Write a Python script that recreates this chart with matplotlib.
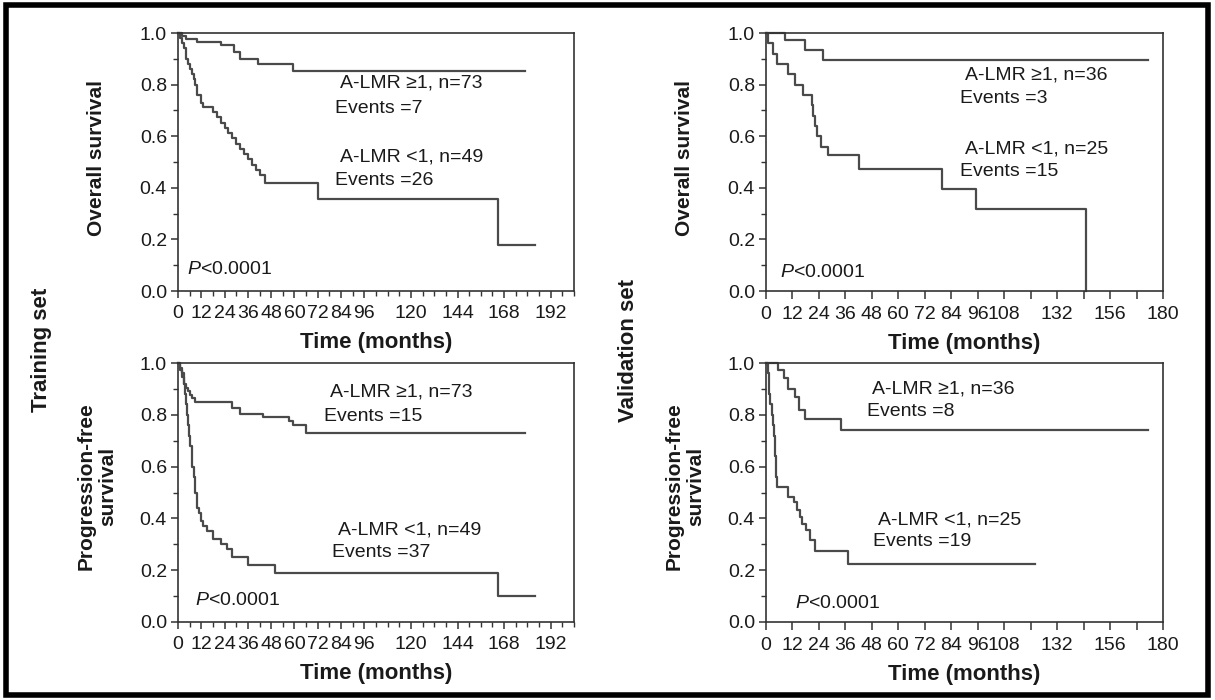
import matplotlib
matplotlib.use("Agg")
import matplotlib.pyplot as plt
from matplotlib.patches import Rectangle
from matplotlib.ticker import MultipleLocator, FixedLocator

plt.rcParams['font.family'] = ['Liberation Sans', 'DejaVu Sans']
plt.rcParams['mathtext.fontset'] = 'custom'
plt.rcParams['mathtext.it'] = 'Liberation Sans:italic'
plt.rcParams['mathtext.rm'] = 'Liberation Sans'

# Kaplan-Meier steps (months, survival)
train_os_hi_t = [0, 2, 4, 10, 22, 29, 32, 41, 59, 179]
train_os_hi_s = [1.0, 0.99, 0.975, 0.965, 0.952, 0.926, 0.90, 0.88, 0.852, 0.852]
train_os_lo_t = [0, 1, 2, 3, 4, 5, 6, 7, 8, 9, 10, 12, 13, 18, 20, 22, 24, 26, 28, 30,
                 32, 34, 36, 38, 40, 42, 45, 72, 165, 184]
train_os_lo_s = [1.0, 0.98, 0.96, 0.94, 0.90, 0.88, 0.86, 0.84, 0.82, 0.80, 0.76, 0.73, 0.714,
                 0.694, 0.673, 0.653, 0.632, 0.612, 0.592, 0.571, 0.551, 0.53, 0.51, 0.49,
                 0.469, 0.449, 0.419, 0.357, 0.178, 0.178]

valid_os_hi_t = [0, 8.5, 17.5, 26, 173]
valid_os_hi_s = [1.0, 0.972, 0.935, 0.897, 0.897]
valid_os_lo_t = [0, 1, 3, 5, 10, 13, 17, 21, 21.5, 22, 23, 25, 28, 42, 80, 95, 145]
valid_os_lo_s = [1.0, 0.96, 0.92, 0.88, 0.84, 0.80, 0.76, 0.72, 0.68, 0.64, 0.60, 0.56,
                 0.526, 0.474, 0.395, 0.316, 0.0]

train_pfs_hi_t = [0, 1, 2, 3, 4, 5, 6, 7, 9, 28, 32, 44, 57, 59, 66, 179]
train_pfs_hi_s = [1.0, 0.973, 0.945, 0.918, 0.904, 0.89, 0.877, 0.863, 0.85, 0.828, 0.805,
                  0.79, 0.775, 0.759, 0.73, 0.73]
train_pfs_lo_t = [0, 1, 2, 3, 3.5, 4, 4.5, 5, 5.5, 6, 7, 8, 9, 10, 11, 12, 13, 15, 18, 22,
                  25, 28, 36, 50, 165, 184]
train_pfs_lo_s = [1.0, 0.98, 0.96, 0.92, 0.88, 0.84, 0.80, 0.76, 0.72, 0.68, 0.60, 0.56, 0.50,
                  0.44, 0.42, 0.39, 0.37, 0.35, 0.32, 0.30, 0.28, 0.25, 0.22, 0.19, 0.10, 0.10]

valid_pfs_hi_t = [0, 5.5, 8, 10, 13, 15, 17.5, 34, 173]
valid_pfs_hi_s = [1.0, 0.972, 0.944, 0.90, 0.87, 0.82, 0.785, 0.743, 0.743]
valid_pfs_lo_t = [0, 1, 1.5, 2, 2.5, 3, 3.5, 4, 4.5, 5, 10, 12.5, 14, 15.5, 16.5, 18, 20, 22, 37, 122]
valid_pfs_lo_s = [1.0, 0.96, 0.88, 0.84, 0.80, 0.76, 0.72, 0.64, 0.56, 0.52, 0.483, 0.463,
                  0.431, 0.405, 0.38, 0.354, 0.315, 0.274, 0.225, 0.225]

left_ticks = [0, 12, 24, 36, 48, 60, 72, 84, 96, 120, 144, 168, 192]
right_ticks = list(range(0, 181, 12))
right_labels = ['0', '12', '24', '36', '48', '60', '72', '84', '96', '108', '', '132', '', '156', '', '180']

set_names = ['Training set', 'Validation set']
y_names = ['Overall survival', 'Progression-free\nsurvival']

# annotation text: (label, x month, y)
notes_tl = [('A-LMR \u22651, n=73', 83.4, 0.805), ('Events =7', 80.9, 0.708),
            ('A-LMR <1, n=49', 83.4, 0.518), ('Events =26', 80.9, 0.43)]
notes_tr = [('A-LMR \u22651, n=36', 90.2, 0.837), ('Events =3', 88, 0.747),
            ('A-LMR <1, n=25', 90.2, 0.549), ('Events =15', 88, 0.462)]
notes_bl = [('A-LMR \u22651, n=73', 78.3, 0.888), ('Events =15', 75.2, 0.794),
            ('A-LMR <1, n=49', 82.2, 0.354), ('Events =37', 79.1, 0.27)]
notes_br = [('A-LMR \u22651, n=36', 47.9, 0.90), ('Events =8', 45.6, 0.811),
            ('A-LMR <1, n=25', 51, 0.395), ('Events =19', 48.7, 0.309)]
pval_pos = [(4.8, 0.084), (6.3, 0.071), (8.8, 0.084), (13.1, 0.071)]

W, H = 1215, 700
fig = plt.figure(figsize=(W / 100, H / 100), dpi=100)
fig.patch.set_facecolor('white')


def box(x0, y_top, w, h):
    return [x0 / W, 1 - (y_top + h) / H, w / W, h / H]


ax_tl = fig.add_axes(box(178, 33, 396, 258))
ax_tr = fig.add_axes(box(766, 33, 397, 258))
ax_bl = fig.add_axes(box(178, 363, 396, 259))
ax_br = fig.add_axes(box(766, 363, 397, 259))

line_col = '#4a4a4a'
txt_col = '#1a1a1a'


def style(ax, left):
    ax.set_ylim(0, 1.0)
    ax.yaxis.set_major_locator(FixedLocator([0, 0.2, 0.4, 0.6, 0.8, 1.0]))
    ax.yaxis.set_minor_locator(MultipleLocator(0.1))
    ax.set_yticklabels(['0.0', '0.2', '0.4', '0.6', '0.8', '1.0'])
    if left:
        ax.set_xlim(0, 204)
        ax.set_xticks(left_ticks)
        ax.set_xticklabels([str(v) for v in left_ticks])
        ax.xaxis.set_minor_locator(MultipleLocator(6))
    else:
        ax.set_xlim(0, 180)
        ax.set_xticks(right_ticks)
        ax.set_xticklabels(right_labels)
    ax.tick_params(which='major', direction='out', length=5, width=1.1, color='#333333',
                   labelsize=14, labelcolor=txt_col, pad=3)
    ax.tick_params(which='minor', direction='out', length=3.5, width=1.0, color='#333333')
    ax.tick_params(axis='x', which='major', length=5 if left else 6, pad=5)
    for sp in ax.spines.values():
        sp.set_color('#333333')
        sp.set_linewidth(1.2)
    ax.set_xlabel('Time (months)', fontsize=16, fontweight='bold', color=txt_col, labelpad=7)


panels = [
    (ax_tl, True, train_os_hi_t, train_os_hi_s, train_os_lo_t, train_os_lo_s, notes_tl),
    (ax_tr, False, valid_os_hi_t, valid_os_hi_s, valid_os_lo_t, valid_os_lo_s, notes_tr),
    (ax_bl, True, train_pfs_hi_t, train_pfs_hi_s, train_pfs_lo_t, train_pfs_lo_s, notes_bl),
    (ax_br, False, valid_pfs_hi_t, valid_pfs_hi_s, valid_pfs_lo_t, valid_pfs_lo_s, notes_br),
]

for i, (ax, left, ht, hs, lt, ls, notes) in enumerate(panels):
    style(ax, left)
    ax.step(ht, hs, where='post', color=line_col, lw=1.6, clip_on=False)
    ax.step(lt, ls, where='post', color=line_col, lw=1.6, clip_on=False)
    for txt, x, y in notes:
        ax.text(x, y, txt, fontsize=14, color=txt_col, ha='left', va='center')
    px, py = pval_pos[i]
    ax.text(px, py, r'$\mathit{P}$<0.0001', fontsize=14, color=txt_col, ha='left', va='center')

# y labels and set names
for x_ax, name in zip([178, 766], set_names):
    fig.text((x_ax - 81) / W, 1 - 158 / H, y_names[0], rotation=90, fontsize=15,
             fontweight='bold', color=txt_col, ha='center', va='center')
    fig.text((x_ax - 81) / W, 1 - 486 / H, y_names[1], rotation=90, fontsize=15,
             fontweight='bold', color=txt_col, ha='center', va='center', linespacing=1.15)
    fig.text((x_ax - 137) / W, 0.5, name, rotation=90, fontsize=16,
             fontweight='bold', color=txt_col, ha='center', va='center')

# black frame around the figure
fig.patches.append(Rectangle((6 / W, 5 / H), 1 - 13 / W, 1 - 10 / H, transform=fig.transFigure,
                             fill=False, lw=4, ec='black'))

fig.savefig('out.png', dpi=100)
